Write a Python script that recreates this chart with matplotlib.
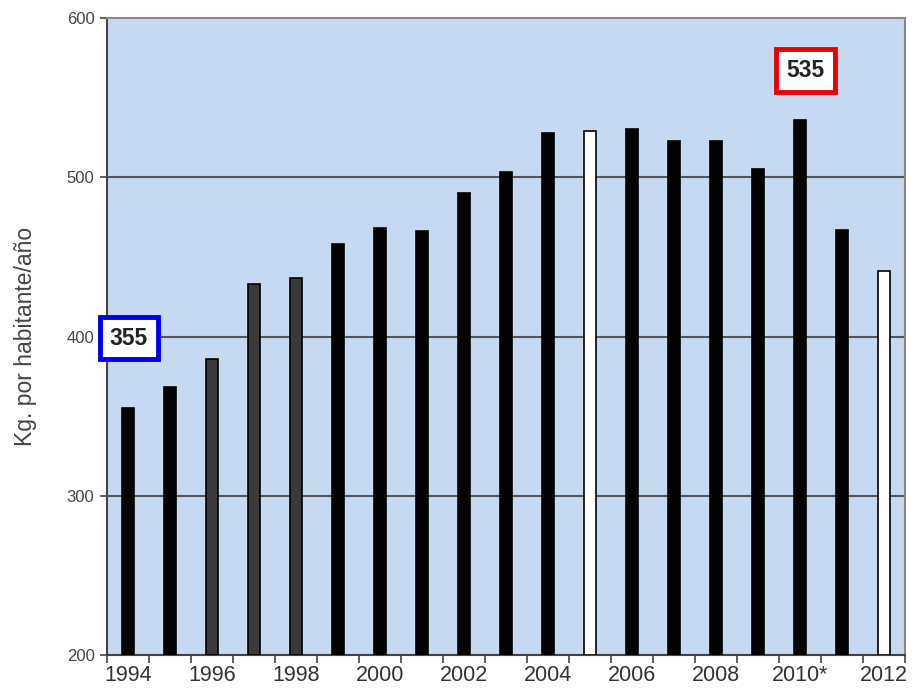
import matplotlib.pyplot as plt

years = [1994, 1995, 1996, 1997, 1998, 1999, 2000, 2001, 2002, 2003,
         2004, 2005, 2006, 2007, 2008, 2009, 2010, 2011, 2012]
year_labels = ['1994', '', '1996', '', '1998', '', '2000', '', '2002', '',
               '2004', '', '2006', '', '2008', '', '2010*', '', '2012']
kg_per_person = [355, 368, 386, 433, 437, 458, 468, 466, 490, 503,
                 528, 529, 530, 523, 523, 505, 536, 467, 441]
bar_colors = ['black', 'black', '#3a3a3a', '#3a3a3a', '#3a3a3a', 'black', 'black',
              'black', 'black', 'black', 'black', 'white', 'black', 'black',
              'black', 'black', 'black', 'black', 'white']

plt.rcParams['font.family'] = ['Liberation Sans', 'DejaVu Sans']

fig = plt.figure(figsize=(9.13, 6.98), dpi=100)
ax = fig.add_axes([0.1172, 0.0616, 0.874, 0.9126])
ax.set_facecolor('#c6d9f0')

x = list(range(len(years)))
ax.bar(x, [v - 200 for v in kg_per_person], bottom=200, width=0.3,
       color=bar_colors, edgecolor='black', linewidth=1.2, zorder=3)

ax.set_xlim(-0.5, len(years) - 0.5)
ax.set_ylim(200, 600)
ax.set_yticks([200, 300, 400, 500, 600])
for y in [300, 400, 500]:
    ax.axhline(y, color='#555555', linewidth=1.5, zorder=2)

# ticks sit between the bars, labels under every other bar
ax.set_xticks([i + 0.5 for i in range(-1, len(years))])
ax.set_xticklabels([])
ax.set_xticks(x, minor=True)
ax.set_xticklabels(year_labels, minor=True)
ax.tick_params(axis='x', which='major', length=6, width=1.2, color='#444444', direction='out')
ax.tick_params(axis='x', which='minor', length=0, labelsize=15.5, labelcolor='#333333', pad=7)
ax.tick_params(axis='y', length=5, width=1.2, color='#444444', labelsize=12,
               labelcolor='#444444', pad=4)

for side in ['left', 'bottom']:
    ax.spines[side].set_color('#444444')
    ax.spines[side].set_linewidth(1.5)
for side in ['top', 'right']:
    ax.spines[side].set_color('#888888')
    ax.spines[side].set_linewidth(1.5)

ax.set_ylabel('Kg. por habitante/año', fontsize=16.5, color='#444444', labelpad=21)

ax.text(0.02, 399, '355', fontsize=16.5, fontweight='bold', color='#222222',
        ha='center', va='center', zorder=5,
        bbox=dict(boxstyle='square,pad=0.42', facecolor='white',
                  edgecolor='#0000ee', linewidth=3.5))
ax.text(16.14, 567, '535', fontsize=16.5, fontweight='bold', color='#222222',
        ha='center', va='center', zorder=5,
        bbox=dict(boxstyle='square,pad=0.45', facecolor='white',
                  edgecolor='#ee0000', linewidth=3.5))

fig.savefig('out.png', dpi=100)
